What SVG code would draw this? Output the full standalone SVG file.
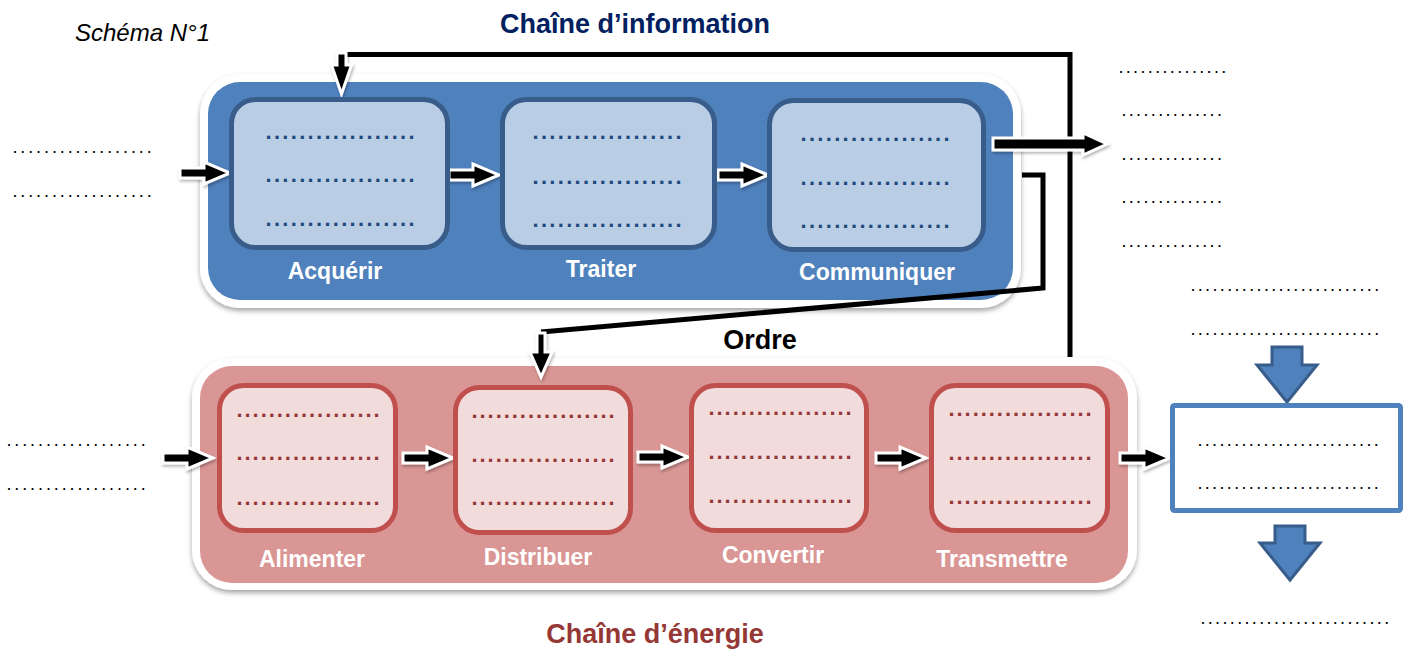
<svg xmlns="http://www.w3.org/2000/svg" xmlns:xlink="http://www.w3.org/1999/xlink" width="1411" height="650" viewBox="0 0 1411 650">
  <style>
    .lbl { font-family: "Liberation Sans", Arial, sans-serif; font-weight: bold; font-size: 23px; fill: #ffffff; text-anchor: middle; }
    .title { font-family: "Liberation Sans", Arial, sans-serif; font-weight: bold; font-size: 27px; text-anchor: middle; }
    .dB { font-family: "Liberation Sans", Arial, sans-serif; font-weight: bold; font-size: 22px; fill: #1f497d; letter-spacing: 2.3px; }
    .dR { font-family: "Liberation Sans", Arial, sans-serif; font-weight: bold; font-size: 22px; fill: #953735; letter-spacing: 1.95px; }
    .dL { font-family: "Liberation Sans", Arial, sans-serif; font-size: 18px; fill: #000000; letter-spacing: 2.9px; }
    .dK { font-family: "Liberation Sans", Arial, sans-serif; font-size: 18px; fill: #000000; letter-spacing: 2.35px; }
    .frame { fill: #ffffff; filter: url(#shadow); }
    .infoBox { fill: #b9cde5; stroke: #385d8a; stroke-width: 5; }
    .enerBox { fill: #f2dcdb; stroke: #c0504d; stroke-width: 5; }
    .blk { fill: #000000; stroke: #ffffff; stroke-width: 3; stroke-linejoin: miter; filter: url(#soft); }
    .wire { fill: none; stroke: #000000; stroke-width: 5; stroke-linejoin: miter; }
    .bigDown { fill: #4f81bd; stroke: #385d8a; stroke-width: 3; stroke-linejoin: miter; }
  </style>
  <defs>
    <filter id="shadow" x="-5%" y="-10%" width="110%" height="125%">
      <feDropShadow dx="0" dy="3" stdDeviation="2.5" flood-color="#000000" flood-opacity="0.35"/>
    </filter>
    <filter id="soft" x="-30%" y="-30%" width="160%" height="160%">
      <feDropShadow dx="1" dy="2" stdDeviation="1.5" flood-color="#000000" flood-opacity="0.3"/>
    </filter>
    <!-- small block arrow, tip at origin, pointing right -->
    <path id="ra" d="M-50,-5 H-26 V-11 L0,0 L-26,11 V5 H-50 Z"/>
  </defs>

  <rect width="1411" height="650" fill="#ffffff"/>

  <!-- titles -->
  <text x="75" y="41" font-family="'Liberation Sans', Arial, sans-serif" font-style="italic" font-size="24" fill="#000000">Schéma N°1</text>
  <text class="title" x="635" y="33" fill="#002060">Chaîne d’information</text>
  <text class="title" x="655" y="643" fill="#953735">Chaîne d’énergie</text>

  <!-- information chain container -->
  <g id="chaine-information">
    <rect class="frame" x="200" y="74" width="821" height="234" rx="40"/>
    <rect x="208" y="82" width="805" height="218" rx="32" fill="#4f81bd"/>
  </g>

  <!-- energy chain container -->
  <g id="chaine-energie">
    <rect class="frame" x="192" y="358" width="945" height="232" rx="40"/>
    <rect x="200" y="366" width="928" height="217" rx="32" fill="#d99694"/>
  </g>

  <!-- connectors -->
  <g id="connectors">
    <!-- feedback loop from the energy chain to Acquérir -->
    <path class="wire" d="M341.5,54.5 H1070 V357"/>
    <path class="blk" d="M337,53 H346 V65 H351.5 L341.5,94 L331.5,65 H337 Z"/>
    <!-- order from Communiquer to Distribuer -->
    <path class="wire" d="M1022,175 H1043 V288 L541,332"/>
    <path class="blk" d="M537,333 H545 V352 H552 L541,377 L530,352 H537 Z"/>

    <!-- information chain flow -->
    <use class="blk" href="#ra" xlink:href="#ra" x="230" y="173"/>
    <use class="blk" href="#ra" xlink:href="#ra" x="499" y="175"/>
    <use class="blk" href="#ra" xlink:href="#ra" x="768" y="175"/>
    <path class="blk" d="M993,138 H1083 V133 L1107,144 L1083,155 V150 H993 Z"/>

    <!-- energy chain flow -->
    <use class="blk" href="#ra" xlink:href="#ra" x="213" y="458"/>
    <use class="blk" href="#ra" xlink:href="#ra" x="453" y="458"/>
    <use class="blk" href="#ra" xlink:href="#ra" x="688" y="457"/>
    <use class="blk" href="#ra" xlink:href="#ra" x="926" y="458"/>
    <use class="blk" href="#ra" xlink:href="#ra" x="1170" y="458"/>

    <!-- flow through the action block -->
    <path class="bigDown" d="M1272,347 H1302 V365 H1317 L1287,402 L1257,365 H1272 Z"/>
    <path class="bigDown" d="M1275,526 H1305 V543 H1320 L1290,580 L1260,543 H1275 Z"/>
  </g>

  <!-- information chain functions -->
  <g id="acquerir">
    <rect class="infoBox" x="231.5" y="99.5" width="216" height="148" rx="24"/>
    <text class="dB" x="265.5" y="138.5">..................</text>
    <text class="dB" x="265.5" y="181.5">..................</text>
    <text class="dB" x="265.5" y="225.5">..................</text>
    <text class="lbl" x="335" y="279">Acquérir</text>
  </g>
  <g id="traiter">
    <rect class="infoBox" x="502.5" y="99.5" width="212" height="148" rx="24"/>
    <text class="dB" x="532.5" y="138.5">..................</text>
    <text class="dB" x="532.5" y="183.5">..................</text>
    <text class="dB" x="532.5" y="226.5">..................</text>
    <text class="lbl" x="601" y="277">Traiter</text>
  </g>
  <g id="communiquer">
    <rect class="infoBox" x="769.5" y="100.5" width="214" height="149" rx="24"/>
    <text class="dB" x="800.5" y="140.5">..................</text>
    <text class="dB" x="800.5" y="184.5">..................</text>
    <text class="dB" x="800.5" y="227.5">..................</text>
    <text class="lbl" x="877" y="280">Communiquer</text>
  </g>

  <!-- energy chain functions -->
  <g id="alimenter">
    <rect class="enerBox" x="219.5" y="385.5" width="176" height="145" rx="24"/>
    <text class="dR" x="236.5" y="416.5">..................</text>
    <text class="dR" x="236.5" y="459.5">..................</text>
    <text class="dR" x="236.5" y="504.5">..................</text>
    <text class="lbl" x="312" y="567">Alimenter</text>
  </g>
  <g id="distribuer">
    <rect class="enerBox" x="455.5" y="387.5" width="175" height="145" rx="24"/>
    <text class="dR" x="471.5" y="417.5">..................</text>
    <text class="dR" x="471.5" y="461.5">..................</text>
    <text class="dR" x="471.5" y="504.5">..................</text>
    <text class="lbl" x="538" y="565">Distribuer</text>
  </g>
  <g id="convertir">
    <rect class="enerBox" x="691.5" y="385.5" width="175" height="145" rx="24"/>
    <text class="dR" x="708.5" y="414.5">..................</text>
    <text class="dR" x="708.5" y="458.5">..................</text>
    <text class="dR" x="708.5" y="502.5">..................</text>
    <text class="lbl" x="773" y="563">Convertir</text>
  </g>
  <g id="transmettre">
    <rect class="enerBox" x="931.5" y="385.5" width="176" height="145" rx="24"/>
    <text class="dR" x="948.5" y="415.5">..................</text>
    <text class="dR" x="948.5" y="459.5">..................</text>
    <text class="dR" x="948.5" y="503.5">..................</text>
    <text class="lbl" x="1002" y="567">Transmettre</text>
  </g>

  <!-- order label -->
  <g id="ordre">
    <text x="760" y="349" font-family="'Liberation Sans', Arial, sans-serif" font-weight="bold" font-size="27" fill="#000000" text-anchor="middle">Ordre</text>
  </g>

  <!-- inputs -->
  <g id="entrees-information">
    <text class="dL" x="12.4" y="153">..................</text>
    <text class="dL" x="12.4" y="197">..................</text>
  </g>
  <g id="entrees-energie">
    <text class="dL" x="6.4" y="446">..................</text>
    <text class="dL" x="6.4" y="490">..................</text>
  </g>

  <!-- outgoing information -->
  <g id="sorties-information">
    <text class="dK" x="1118.4" y="73">...............</text>
    <text class="dK" x="1121.4" y="116">..............</text>
    <text class="dK" x="1121.4" y="160">..............</text>
    <text class="dK" x="1121.4" y="203">..............</text>
    <text class="dK" x="1121.4" y="247">..............</text>
  </g>

  <!-- matter in / action / matter out -->
  <g id="matiere-entree">
    <text class="dK" x="1190.4" y="291">..........................</text>
    <text class="dK" x="1190.4" y="335">..........................</text>
  </g>
  <g id="action">
    <rect x="1172.5" y="405.5" width="228" height="105" rx="2" fill="#ffffff" stroke="#4f81bd" stroke-width="5"/>
    <text class="dK" x="1197.4" y="446">.........................</text>
    <text class="dK" x="1197.4" y="489">.........................</text>
  </g>
  <g id="matiere-sortie">
    <text class="dK" x="1200.4" y="624">..........................</text>
  </g>
</svg>
